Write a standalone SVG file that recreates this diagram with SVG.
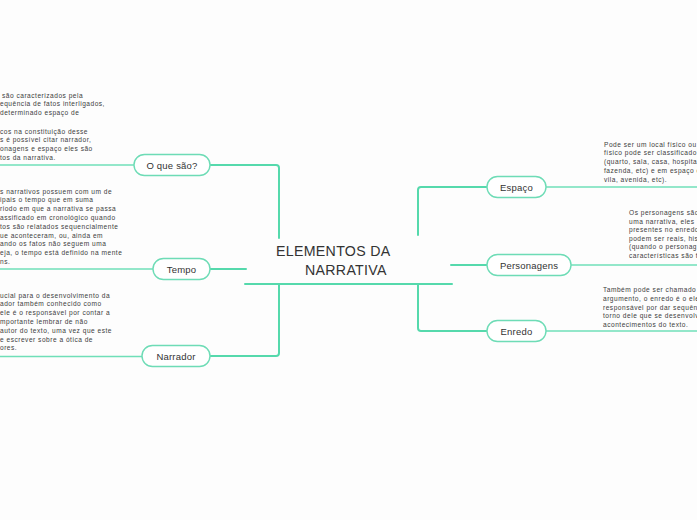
<svg xmlns="http://www.w3.org/2000/svg" width="697" height="520" viewBox="0 0 697 520">
<style>
.bg{fill:#fdfdfd}
.conn{fill:none;stroke:#55d9ac;stroke-width:2;stroke-linecap:round;stroke-linejoin:round}
.uline{fill:none;stroke:#6fdfb8;stroke-width:1.6}
.node rect{fill:#ffffff;stroke:#6edcb6;stroke-width:1.4}
.lbl{font-family:"Liberation Sans",Arial,sans-serif;font-size:9.5px;fill:#333;text-anchor:middle;letter-spacing:0.2px}
.desc{font-family:"Liberation Sans",Arial,sans-serif;font-size:6.6px;fill:#404040;letter-spacing:0.5px}
.title{font-family:"Liberation Sans",Arial,sans-serif;font-size:14.2px;fill:#333;letter-spacing:0.3px}
</style>
<rect class="bg" x="0" y="0" width="697" height="520"/>
<g id="connectors">
<path class="conn" d="M210,165 H276 Q279,165 279,168 V238"/>
<path class="conn" d="M210,269 H246"/>
<path class="conn" d="M245,284 H452"/>
<path class="conn" d="M279,284 V353 Q279,356 276,356 H210"/>
<path class="conn" d="M487,187 H421 Q418,187 418,190 V235"/>
<path class="conn" d="M451,265 H487"/>
<path class="conn" d="M418,284 V328 Q418,331 421,331 H487"/>
<path class="uline" d="M0,165 H134"/>
<path class="uline" d="M0,269 H153"/>
<path class="uline" d="M0,356.5 H142"/>
<path class="uline" d="M546,187 H697"/>
<path class="uline" d="M571,265 H697"/>
<path class="uline" d="M546,331 H697"/>
</g>
<g id="central">
<text class="title" x="276" y="256">ELEMENTOS DA</text>
<text class="title" x="305" y="275">NARRATIVA</text>
</g>
<g id="oque" class="node">
<rect x="134" y="154.5" width="76" height="21" rx="10.5"/>
<text class="lbl" x="172" y="168.5">O que são?</text>
</g>
<g id="tempo" class="node">
<rect x="153" y="258.5" width="57" height="21" rx="10.5"/>
<text class="lbl" x="181.5" y="272.5">Tempo</text>
</g>
<g id="narrador" class="node">
<rect x="142" y="345.5" width="68" height="21" rx="10.5"/>
<text class="lbl" x="176" y="359.5">Narrador</text>
</g>
<g id="espaco" class="node">
<rect x="487" y="176.5" width="59" height="21" rx="10.5"/>
<text class="lbl" x="516.5" y="190.5">Espaço</text>
</g>
<g id="personagens" class="node">
<rect x="487" y="254.5" width="84" height="21" rx="10.5"/>
<text class="lbl" x="529" y="268.5">Personagens</text>
</g>
<g id="enredo" class="node">
<rect x="487" y="320.5" width="59" height="21" rx="10.5"/>
<text class="lbl" x="516.5" y="334.5">Enredo</text>
</g>
<g id="desc-oque">
<text class="desc" x="2" y="97.5">são caracterizados pela</text>
<text class="desc" x="0" y="106.3">equência de fatos interligados,</text>
<text class="desc" x="0" y="115.1">determinado espaço de</text>
<text class="desc" x="0" y="133.5">cos na constituição desse</text>
<text class="desc" x="0" y="142.3">s é possível citar narrador,</text>
<text class="desc" x="0" y="151.1">onagens e espaço eles são</text>
<text class="desc" x="0" y="160">tos da narrativa.</text>
</g>
<g id="desc-tempo">
<text class="desc" x="0" y="193.5">s narrativos possuem com um de</text>
<text class="desc" x="0" y="202.3">ipais o tempo que em suma</text>
<text class="desc" x="0" y="211.1">riodo em que a narrativa se passa</text>
<text class="desc" x="0" y="219.9">assificado em cronológico quando</text>
<text class="desc" x="0" y="228.7">tos são relatados sequencialmente</text>
<text class="desc" x="0" y="237.5">ue aconteceram, ou, ainda em</text>
<text class="desc" x="0" y="246.3">ando os fatos não seguem uma</text>
<text class="desc" x="0" y="255.1">eja, o tempo está definido na mente</text>
<text class="desc" x="0" y="263.9">ns.</text>
</g>
<g id="desc-narrador">
<text class="desc" x="0" y="297.5">ucial para o desenvolvimento da</text>
<text class="desc" x="0" y="306.3">ador também conhecido como</text>
<text class="desc" x="0" y="315.1">ele é o responsável por contar a</text>
<text class="desc" x="0" y="323.9">mportante lembrar de não</text>
<text class="desc" x="0" y="332.7">autor do texto, uma vez que este</text>
<text class="desc" x="0" y="341.5">e escrever sobre a ótica de</text>
<text class="desc" x="0" y="350.3">ores.</text>
</g>
<g id="desc-espaco">
<text class="desc" x="604" y="146.5">Pode ser um local físico ou</text>
<text class="desc" x="604" y="155.3">físico pode ser classificado</text>
<text class="desc" x="604" y="164.1">(quarto, sala, casa, hospita</text>
<text class="desc" x="604" y="172.9">fazenda, etc) e em espaço c</text>
<text class="desc" x="604" y="181.7">vila, avenida, etc).</text>
</g>
<g id="desc-personagens">
<text class="desc" x="629" y="215">Os personagens são</text>
<text class="desc" x="629" y="223.6">uma narrativa, eles</text>
<text class="desc" x="629" y="232.2">presentes no enredo</text>
<text class="desc" x="629" y="240.8">podem ser reais, his</text>
<text class="desc" x="629" y="249.4">(quando o personag</text>
<text class="desc" x="629" y="258">características são t</text>
</g>
<g id="desc-enredo">
<text class="desc" x="603" y="292">Também pode ser chamado</text>
<text class="desc" x="603" y="300.8">argumento, o enredo é o ele</text>
<text class="desc" x="603" y="309.6">responsável por dar sequên</text>
<text class="desc" x="603" y="318.4">torno dele que se desenvolv</text>
<text class="desc" x="603" y="327.2">acontecimentos do texto.</text>
</g>
</svg>
